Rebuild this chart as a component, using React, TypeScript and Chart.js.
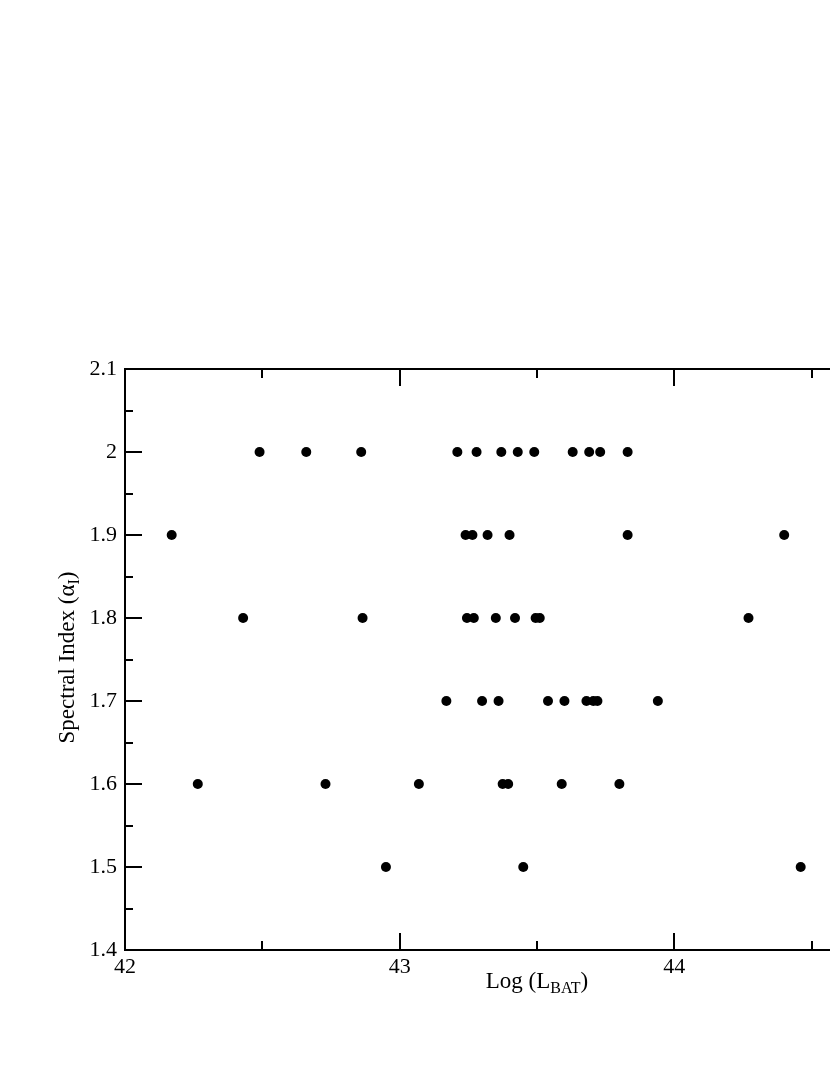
import { useEffect, useRef } from "react";
import { Chart, registerables } from "chart.js";

Chart.register(...registerables);

// Log(L_BAT) values grouped by spectral index level
const ALPHA_LEVELS = [2.0, 1.9, 1.8, 1.7, 1.6, 1.5];
const LOG_L_ALPHA_2_0 = [42.49, 42.66, 42.86, 43.21, 43.28, 43.37, 43.43, 43.49, 43.63, 43.69, 43.73, 43.83];
const LOG_L_ALPHA_1_9 = [42.17, 43.24, 43.265, 43.32, 43.4, 43.83, 44.4];
const LOG_L_ALPHA_1_8 = [42.43, 42.865, 43.245, 43.27, 43.35, 43.42, 43.495, 43.51, 44.27];
const LOG_L_ALPHA_1_7 = [43.17, 43.3, 43.36, 43.54, 43.6, 43.68, 43.705, 43.72, 43.94];
const LOG_L_ALPHA_1_6 = [42.265, 42.73, 43.07, 43.375, 43.395, 43.59, 43.8];
const LOG_L_ALPHA_1_5 = [42.95, 43.45, 44.46];

const X_MIN = 42;
const X_MAX = 45;
const Y_MIN = 1.4;
const Y_MAX = 2.1;

const W = 1100;
const H = 1075;
const FONT = "'Liberation Serif', 'DejaVu Serif', serif";

const tickPlugin = {
  id: "inwardTicks",
  afterDraw(chart: any) {
    const { ctx, chartArea } = chart;
    const xs = chart.scales.x;
    const ys = chart.scales.y;
    ctx.save();
    ctx.strokeStyle = "#000";
    ctx.lineWidth = 2;
    for (let i = 0; i <= Math.round((X_MAX - X_MIN) / 0.5); i++) {
      const v = X_MIN + i * 0.5;
      const major = i % 2 === 0;
      const len = major ? 17 : 9;
      const px = Math.round(xs.getPixelForValue(v));
      ctx.beginPath();
      ctx.moveTo(px, chartArea.bottom);
      ctx.lineTo(px, chartArea.bottom - len);
      ctx.moveTo(px, chartArea.top);
      ctx.lineTo(px, chartArea.top + len);
      ctx.stroke();
    }
    for (let i = 0; i <= Math.round((Y_MAX - Y_MIN) / 0.05); i++) {
      const v = Y_MIN + i * 0.05;
      const major = i % 2 === 0;
      const len = major ? 17 : 8;
      const py = Math.round(ys.getPixelForValue(v));
      ctx.beginPath();
      ctx.moveTo(chartArea.left, py);
      ctx.lineTo(chartArea.left + len, py);
      ctx.moveTo(chartArea.right, py);
      ctx.lineTo(chartArea.right - len, py);
      ctx.stroke();
    }
    ctx.restore();
  },
};

function drawSubText(ctx: CanvasRenderingContext2D, parts: [string, boolean][], cx: number, baseline: number) {
  const main = `23px ${FONT}`;
  const sub = `16px ${FONT}`;
  let total = 0;
  const widths = parts.map(([t, s]) => {
    ctx.font = s ? sub : main;
    const w = ctx.measureText(t).width;
    total += w;
    return w;
  });
  let x = cx - total / 2;
  parts.forEach(([t, s], i) => {
    ctx.font = s ? sub : main;
    ctx.fillText(t, x, s ? baseline + 5 : baseline);
    x += widths[i];
  });
}

const titlePlugin = {
  id: "titles",
  afterDraw(chart: any) {
    const { ctx, chartArea } = chart;
    ctx.save();
    ctx.fillStyle = "#000";
    ctx.textAlign = "left";
    ctx.textBaseline = "alphabetic";
    const cx = (chartArea.left + chartArea.right) / 2;
    const cy = (chartArea.top + chartArea.bottom) / 2;
    drawSubText(ctx, [["Log (L", false], ["BAT", true], [")", false]], cx, 988);
    ctx.translate(74, cy - 2);
    ctx.rotate(-Math.PI / 2);
    drawSubText(ctx, [["Spectral Index (\u03b1", false], ["I", true], [")", false]], 0, 0);
    ctx.restore();
  },
};

export default function App() {
  const ref = useRef<HTMLCanvasElement>(null);
  useEffect(() => {
    if (!ref.current) return;
    const rows = [LOG_L_ALPHA_2_0, LOG_L_ALPHA_1_9, LOG_L_ALPHA_1_8, LOG_L_ALPHA_1_7, LOG_L_ALPHA_1_6, LOG_L_ALPHA_1_5];
    const points: { x: number; y: number }[] = [];
    rows.forEach((row, i) => row.forEach((x) => points.push({ x, y: ALPHA_LEVELS[i] })));

    const axisCommon = {
      type: "linear" as const,
      grid: { drawOnChartArea: false, drawTicks: false },
      border: { display: true, color: "#000", width: 2 },
    };

    const chart = new Chart(ref.current, {
      type: "scatter",
      data: {
        datasets: [
          {
            data: points,
            pointRadius: 5,
            pointBackgroundColor: "#000",
            pointBorderColor: "#000",
            pointBorderWidth: 0,
            showLine: false,
          },
        ],
      },
      options: {
        animation: false,
        responsive: false,
        devicePixelRatio: 1,
        layout: { padding: 0 },
        plugins: { legend: { display: false }, tooltip: { enabled: false } },
        scales: {
          x: {
            ...axisCommon,
            position: "bottom",
            min: X_MIN,
            max: X_MAX,
            ticks: {
              stepSize: 1,
              color: "#000",
              font: { family: FONT, size: 22 },
              padding: 4,
              maxRotation: 0,
              autoSkip: false,
            },
            afterFit: (s: any) => {
              s.height = 125;
            },
          },
          x2: {
            ...axisCommon,
            position: "top",
            min: X_MIN,
            max: X_MAX,
            ticks: { display: false },
            afterFit: (s: any) => {
              s.height = 369;
            },
          },
          y: {
            ...axisCommon,
            position: "left",
            min: Y_MIN,
            max: Y_MAX,
            ticks: {
              stepSize: 0.1,
              color: "#000",
              font: { family: FONT, size: 22 },
              padding: 8,
              autoSkip: false,
              callback: (v: any) => String(Number(Number(v).toFixed(2))),
            },
            afterFit: (s: any) => {
              s.width = 125;
            },
          },
          y2: {
            ...axisCommon,
            position: "right",
            min: Y_MIN,
            max: Y_MAX,
            ticks: { display: false },
            afterFit: (s: any) => {
              s.width = W - 949;
            },
          },
        },
      },
      plugins: [tickPlugin, titlePlugin],
    } as any);
    return () => chart.destroy();
  }, []);

  return (
    <div
      style={{
        position: "fixed",
        left: 0,
        top: 0,
        width: 830,
        height: 1075,
        overflow: "hidden",
        background: "#fff",
      }}
    >
      <canvas ref={ref} width={W} height={H} style={{ display: "block", width: W, height: H }} />
    </div>
  );
}
